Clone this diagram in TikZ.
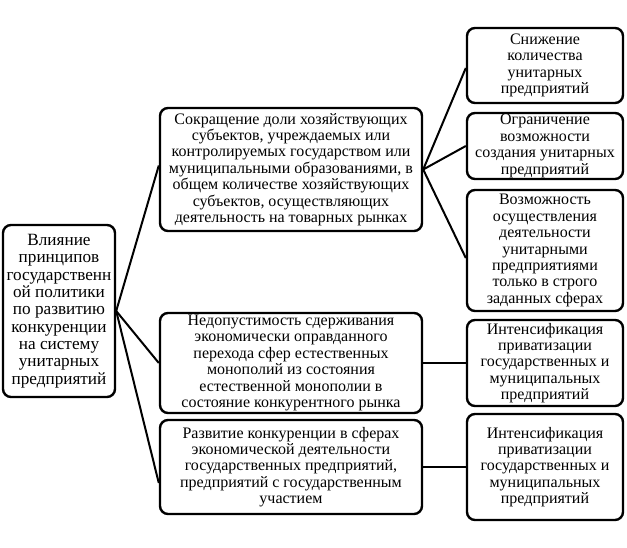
\documentclass[tikz,border=0pt]{standalone}
\usepackage{fontspec}
\setmainfont{Liberation Serif}
\begin{document}
\begin{tikzpicture}[x=1pt,y=-1pt,
  box/.style={draw, line width=2.4pt, rounded corners=8pt, align=center, inner sep=0.5pt,
    font=\fontsize{16}{16.4}\selectfont},
  bigbox/.style={box, font=\fontsize{17.2}{17.3}\selectfont},
  link/.style={line width=2pt}]
\useasboundingbox[fill=white] (0,0) rectangle (627,548);
\node[bigbox, minimum width=112pt, minimum height=172pt] (L) at (59,311)
  {Влияние\\принципов\\государственн\\ой политики\\по развитию\\конкуренции\\на систему\\унитарных\\предприятий};
\node[box, minimum width=262pt, minimum height=123pt] (A) at (291,169.5)
  {Сокращение доли хозяйствующих\\субъектов, учреждаемых или\\контролируемых государством или\\муниципальными образованиями, в\\общем количестве хозяйствующих\\субъектов, осуществляющих\\деятельность на товарных рынках};
\node[box, minimum width=262pt, minimum height=100pt] (B) at (291,363)
  {Недопустимость сдерживания\\экономически оправданного\\перехода сфер естественных\\монополий из состояния\\естественной монополии в\\состояние конкурентного рынка};
\node[box, minimum width=262pt, minimum height=94pt] (C) at (291,467)
  {Развитие конкуренции в сферах\\экономической деятельности\\государственных предприятий,\\предприятий с государственным\\участием};
\node[box, minimum width=156pt, minimum height=75pt] (R1) at (545,65.5)
  {Снижение\\количества\\унитарных\\предприятий};
\node[box, minimum width=156pt, minimum height=66pt] (R2) at (545,146)
  {Ограничение\\возможности\\создания унитарных\\предприятий};
\node[box, minimum width=156pt, minimum height=121pt] (R3) at (545,250.5)
  {Возможность\\осуществления\\деятельности\\унитарными\\предприятиями\\только в строго\\заданных сферах};
\node[box, minimum width=156pt, minimum height=86pt] (R4) at (545,363)
  {Интенсификация\\приватизации\\государственных и\\муниципальных\\предприятий};
\node[box, minimum width=156pt, minimum height=106pt] (R5) at (545,467)
  {Интенсификация\\приватизации\\государственных и\\муниципальных\\предприятий};
\draw[link] (L.east) -- ([yshift=4pt]A.west);
\draw[link] (L.east) -- (B.west);
\draw[link] (L.east) -- ([yshift=-16pt]C.west);
\draw[link] (A.east) -- ([yshift=-2.5pt]R1.west);
\draw[link] (A.east) -- (R2.west);
\draw[link] (A.east) -- ([yshift=-7.5pt]R3.west);
\draw[link] (B.east) -- (R4.west);
\draw[link] (C.east) -- (R5.west);
\end{tikzpicture}
\end{document}
